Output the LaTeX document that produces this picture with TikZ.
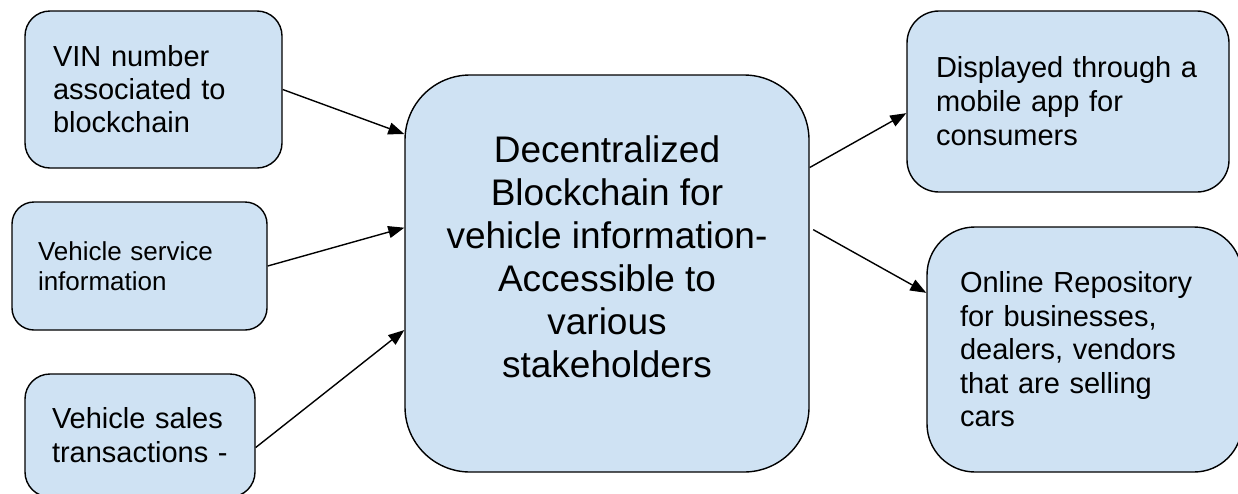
\documentclass[tikz,border=0pt]{standalone}
\usepackage{fontspec}
\setmainfont{Liberation Sans}
\usetikzlibrary{arrows.meta,calc}
\definecolor{boxfill}{HTML}{CFE2F3}
\tikzset{
  box/.style={draw=black, line width=1.4pt, fill=boxfill, align=left, inner ysep=0pt, anchor=center},
  link/.style={draw=black, line width=1.4pt, -{Triangle[length=16pt,width=12pt]}},
}
\begin{document}
\begin{tikzpicture}[x=1pt,y=-1pt]
\clip (0,0) rectangle (1238,493);
\fill[white] (0,0) rectangle (1238,493);

\node[box, rounded corners=25pt, minimum width=257pt, minimum height=157pt, inner xsep=28pt, text width=201pt,
  font=\fontsize{29}{33}\selectfont] (vin) at (153.5,89.5)
  {VIN number\\associated to\\blockchain};

\node[box, rounded corners=22pt, minimum width=255pt, minimum height=128pt, inner xsep=26pt, text width=203pt,
  font=\fontsize{26}{30}\selectfont] (svc) at (139.5,266)
  {Vehicle service\\information};

\node[box, rounded corners=25pt, minimum width=230pt, minimum height=123pt, inner xsep=27pt, text width=176pt,
  font=\fontsize{29}{34}\selectfont] (sales) at (140,435.5)
  {Vehicle sales\\transactions -};

\node[box, rounded corners=65pt, minimum width=404pt, minimum height=397pt, inner sep=0pt] (hub) at (607,273.5) {};
\node[align=center, inner sep=0pt, font=\fontsize{37}{43}\selectfont] (hubtext) at ($(hub.center)+(0,-17)$)
  {Decentralized\\Blockchain for\\vehicle information-\\Accessible to\\various\\stakeholders};

\node[box, rounded corners=32pt, minimum width=322pt, minimum height=181pt, inner xsep=29pt, text width=264pt,
  font=\fontsize{29}{34}\selectfont] (disp) at (1068,101.5)
  {Displayed through a\\mobile app for\\consumers};

\node[box, rounded corners=48pt, minimum width=315pt, minimum height=245pt, inner xsep=33pt, text width=249pt,
  font=\fontsize{29}{33.5}\selectfont] (repo) at (1084.5,349.5)
  {Online Repository\\for businesses,\\dealers, vendors\\that are selling\\cars};

\draw[link] (vin.east) -- ($(hub.north west)!0.15!(hub.south west)$);
\draw[link] (svc.east) -- ($(hub.north west)!0.385!(hub.south west)$);
\draw[link] ($(sales.east)+(0,12)$) -- ($(hub.north west)!0.642!(hub.south west)$);
\draw[link] ($(hub.north east)!0.234!(hub.south east)$) -- ($(disp.north west)!0.564!(disp.south west)$);
\draw[link, shorten <=4pt] ($(hub.north east)!0.385!(hub.south east)$) -- ($(repo.north west)!0.27!(repo.south west)$);
\end{tikzpicture}
\end{document}
